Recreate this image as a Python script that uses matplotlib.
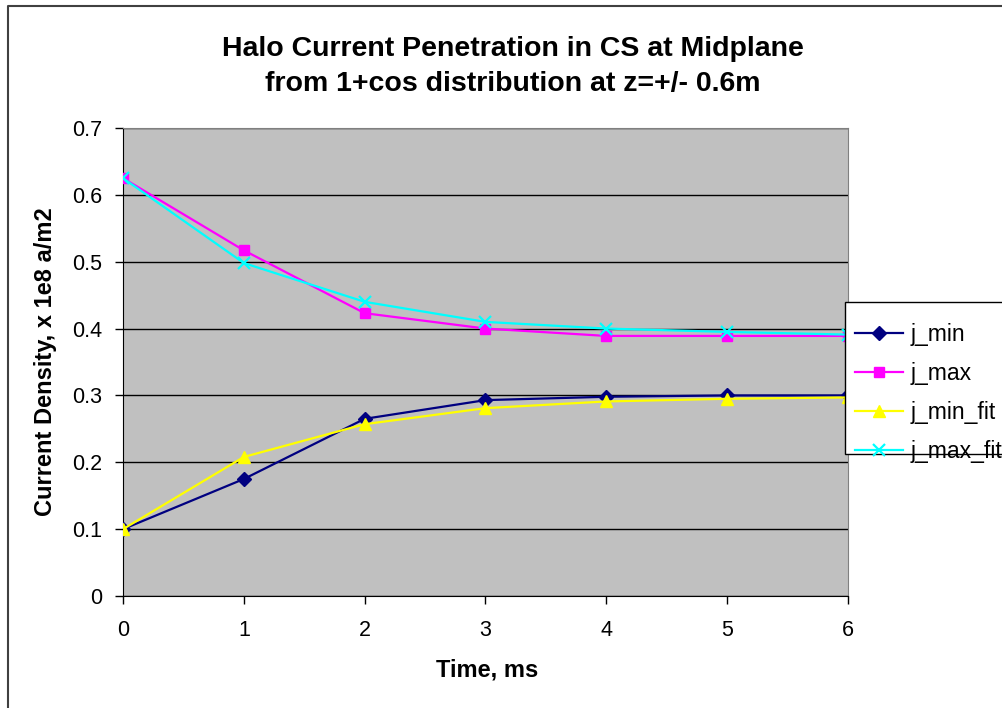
import numpy as np
import matplotlib
matplotlib.use('Agg')
import matplotlib.pyplot as plt
from matplotlib.patches import Rectangle
from matplotlib.lines import Line2D

plt.rcParams['font.family'] = ['Liberation Sans', 'DejaVu Sans']

# dados
t = [0, 1, 2, 3, 4, 5, 6]
j_min = [0.100, 0.175, 0.265, 0.293, 0.298, 0.300, 0.300]
j_max = [0.625, 0.517, 0.423, 0.400, 0.389, 0.389, 0.389]
j_min_fit = [0.100, 0.208, 0.257, 0.281, 0.291, 0.295, 0.297]
j_max_fit = [0.625, 0.498, 0.440, 0.410, 0.400, 0.395, 0.391]

W, H = 1003, 708
fig = plt.figure(figsize=(W / 100, H / 100), dpi=100)

# moldura da figura (só esquerda e topo visíveis)
fig.lines.append(Line2D([8 / W, 8 / W, 1.0], [0.0, 1 - 6 / H, 1 - 6 / H], transform=fig.transFigure,
                        color='#404040', linewidth=1.5))

ax = fig.add_axes([123 / W, 1 - 596 / H, (848 - 123) / W, (596 - 128) / H])
ax.set_facecolor('#C0C0C0')

ax.plot(t, j_min, color='#000080', marker='D', markersize=7, linewidth=1.6, label='j_min', zorder=3)
ax.plot(t, j_max, color='#FF00FF', marker='s', markersize=7, linewidth=1.6, label='j_max', zorder=3)
ax.plot(t, j_min_fit, color='#FFFF00', marker='^', markersize=8.5, linewidth=1.6, label='j_min_fit', zorder=3)
ax.plot(t, j_max_fit, color='#00FFFF', marker='x', markersize=8, markeredgewidth=1.6, linewidth=1.6,
        label='j_max_fit', zorder=3)

ax.set_xlim(0, 6)
ax.set_ylim(0, 0.7)
ax.set_xticks(t)
ax.set_yticks(np.arange(0, 0.71, 0.1))
ax.set_yticklabels(['0', '0.1', '0.2', '0.3', '0.4', '0.5', '0.6', '0.7'])
ax.yaxis.grid(True, color='black', linewidth=1)
ax.set_axisbelow(True)
ax.tick_params(labelsize=15.5, direction='out', length=6, width=1, color='black')
ax.tick_params(axis='y', pad=9)
ax.tick_params(axis='x', pad=11)
for s in ['left', 'bottom']:
    ax.spines[s].set_color('black')
for s in ['top', 'right']:
    ax.spines[s].set_color('#808080')

fig.text(487 / W, 1 - 670 / H, 'Time, ms', ha='center', va='center', fontsize=17, fontweight='bold')
fig.text(46 / W, 1 - 362 / H, 'Current Density, x 1e8 a/m2', ha='center', va='center',
         rotation=90, fontsize=17, fontweight='bold')

fig.text(513 / W, 1 - 66 / H, 'Halo Current Penetration in CS at Midplane\nfrom 1+cos distribution at z=+/- 0.6m',
         ha='center', va='center', fontsize=20.5, fontweight='bold', linespacing=1.45)

# caixa da legenda
fig.patches.append(Rectangle((845 / W, 1 - 454 / H), 0.3, 152 / H, transform=fig.transFigure,
                             facecolor='white', edgecolor='black', linewidth=1, zorder=4))
leg = fig.legend(loc='upper left', bbox_to_anchor=(845 / W, 1 - 313 / H), fontsize=16.5,
                 frameon=False, handlelength=2.1, handletextpad=0.3, labelspacing=0.7,
                 borderpad=0.45, borderaxespad=0)
leg.set_zorder(5)

fig.savefig('out.png', dpi=100, facecolor='white')
